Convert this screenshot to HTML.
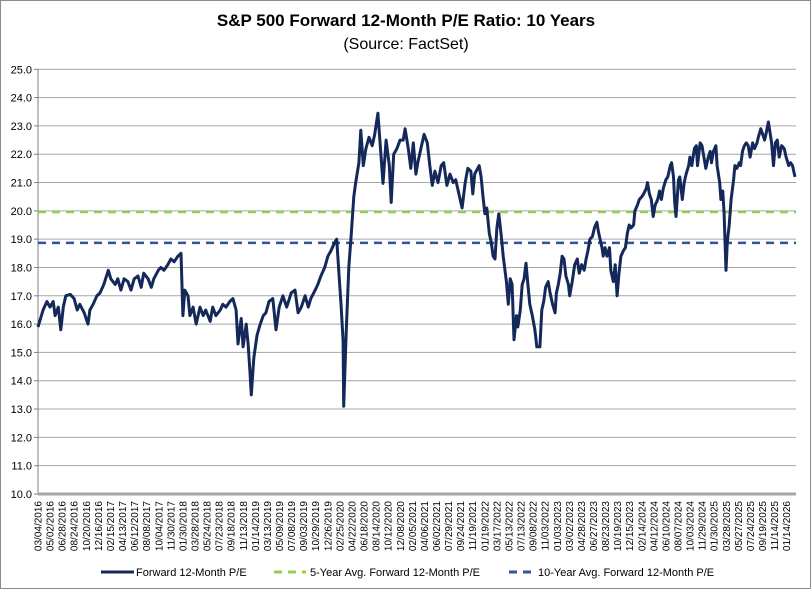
<!DOCTYPE html>
<html><head><meta charset="utf-8"><style>
html,body{margin:0;padding:0;background:#fff;}
svg{display:block;font-family:"Liberation Sans",Arial,sans-serif;}
</style></head><body>
<svg id="chart" width="812" height="590" viewBox="0 0 812 590">
<rect x="0.5" y="0.5" width="810" height="588" fill="#fff" stroke="#8c8c8c"/>
<text x="406" y="26" text-anchor="middle" font-size="17" font-weight="bold" fill="#000">S&amp;P 500 Forward 12-Month P/E Ratio: 10 Years</text>
<text x="406" y="49" text-anchor="middle" font-size="16" fill="#000">(Source: FactSet)</text>
<g id="grid"></g>
<g id="yaxis"></g>
<g id="xaxis"></g>
<g id="series"></g>
<g>
  <g>
    <line x1="101" y1="572" x2="134" y2="572" stroke="#14285a" stroke-width="3"/>
    <text x="136" y="576" font-size="11" fill="#000">Forward 12-Month P/E</text>
  </g>
  <g>
    <line x1="274" y1="572" x2="306" y2="572" stroke="#92d050" stroke-width="3" stroke-dasharray="8,6"/>
    <text x="310" y="576" font-size="11" fill="#000">5-Year Avg. Forward 12-Month P/E</text>
  </g>
  <g>
    <line x1="509" y1="572" x2="535" y2="572" stroke="#2f5597" stroke-width="3" stroke-dasharray="8,6"/>
    <text x="538" y="576" font-size="11" fill="#000">10-Year Avg. Forward 12-Month P/E</text>
  </g>
</g>
</svg>
<script>
const yTicks = [10,11,12,13,14,15,16,17,18,19,20,21,22,23,24,25];
const xLabels = ["03/04/2016","05/02/2016","06/28/2016","08/24/2016","10/20/2016","12/16/2016","02/15/2017","04/13/2017","06/12/2017","08/08/2017","10/04/2017","11/30/2017","01/30/2018","03/28/2018","05/24/2018","07/23/2018","09/18/2018","11/13/2018","01/14/2019","03/13/2019","05/09/2019","07/08/2019","09/03/2019","10/29/2019","12/26/2019","02/25/2020","04/22/2020","06/18/2020","08/14/2020","10/12/2020","12/08/2020","02/05/2021","04/06/2021","06/02/2021","07/29/2021","09/24/2021","11/19/2021","01/19/2022","03/17/2022","05/13/2022","07/13/2022","09/08/2022","11/03/2022","01/03/2023","03/02/2023","04/28/2023","06/27/2023","08/23/2023","10/19/2023","12/15/2023","02/14/2024","04/12/2024","06/10/2024","08/07/2024","10/03/2024","11/29/2024","01/30/2025","03/28/2025","05/27/2025","07/24/2025","09/19/2025","11/14/2025","01/14/2026"];
const avg5Year = 19.96;
const avg10Year = 18.87;
// months since March 2016
const months = [
0,0.8,1.4,1.9,2.4,2.7,3.2,3.6,4.0,4.4,
5.1,5.7,6.2,6.6,7.3,7.9,8.2,8.7,9.3,9.8,
10.4,11.1,11.5,12.2,12.6,13.1,13.6,14.2,14.7,15.2,
15.8,16.3,16.7,17.4,17.9,18.3,19.0,19.4,19.9,20.5,
21.0,21.5,22.1,22.6,22.9,23.2,23.7,24.0,24.5,25.0,
25.6,26.1,26.5,27.2,27.6,28.1,28.8,29.2,29.7,30.3,
30.8,31.3,31.6,32.1,32.4,32.9,33.2,33.5,33.7,34.1,
34.6,35.1,35.6,36.0,36.5,37.1,37.6,38.1,38.7,
39.3,40.0,40.6,41.1,41.6,42.2,42.7,43.1,43.8,44.2,
44.7,45.3,45.8,46.3,46.8,47.2,47.6,47.9,48.2,48.3,
48.7,49.1,49.5,49.9,50.2,50.7,51.0,51.4,51.8,52.3,
52.8,53.2,53.7,54.2,54.5,55.0,55.5,55.8,56.2,56.7,
57.2,57.7,58.0,58.5,58.9,59.3,59.7,60.0,60.5,61.0,
61.5,61.9,62.3,62.7,63.2,63.7,64.1,64.6,65.1,65.6,
66.0,66.5,67.0,67.5,67.9,68.4,68.7,69.0,69.7,70.0,
70.3,70.6,70.9,71.3,71.6,71.9,72.2,72.5,72.8,73.2,
73.5,74.0,74.3,74.6,74.9,75.2,75.6,75.8,76.2,76.5,
76.8,77.1,77.4,77.7,78.1,78.5,78.8,
79.3,79.6,79.9,80.2,80.6,80.9,81.3,81.7,81.9,82.2,
82.5,82.8,83.1,83.4,83.8,84.0,84.4,84.8,85.2,85.5,
85.9,86.3,86.6,86.9,87.2,87.6,87.9,88.3,88.5,88.8,
89.1,89.3,89.6,89.9,90.3,90.5,90.9,91.2,91.5,91.8,
92.1,92.5,92.8,93.1,93.4,93.7,94.1,94.3,94.7,95.0,
95.4,95.7,96.1,96.3,96.6,96.9,97.2,97.5,97.9,98.2,
98.5,98.8,99.2,99.5,99.9,100.1,100.4,100.6,100.8,101.2,
101.4,101.8,102.1,102.4,102.8,103.0,103.3,103.7,104.0,104.2,
104.6,104.9,105.2,105.5,105.9,106.2,106.4,106.7,107.1,107.3,
107.7,107.9,108.2,108.4,108.7,108.9,109.2,109.5,109.9,110.1,
110.4,110.8,111.0,111.3,111.6,111.9,112.2,112.5,112.9,113.2,
113.6,113.8,114.2,114.5,114.8,115.0,115.4,115.7,115.9,116.2,
116.5,116.8,117.1,117.5,117.9,118.2,118.6,118.9,119.2,119.6
];
const peValues = [
15.9,16.5,16.8,16.6,16.8,16.3,16.6,15.8,16.6,17.0,
17.05,16.9,16.5,16.7,16.4,16.0,16.5,16.7,17.0,17.1,
17.4,17.9,17.6,17.4,17.6,17.2,17.6,17.5,17.2,17.6,
17.7,17.3,17.8,17.6,17.3,17.6,17.9,18.0,17.9,18.1,
18.3,18.2,18.4,18.5,16.3,17.2,17.0,16.3,16.6,16.0,
16.6,16.3,16.5,16.1,16.6,16.3,16.5,16.7,16.6,16.8,
16.9,16.5,15.3,16.2,15.2,16.0,15.3,14.3,13.5,14.8,
15.6,16.0,16.3,16.4,16.8,16.9,15.8,16.6,17.0,
16.6,17.1,17.2,16.4,16.6,17.0,16.6,16.9,17.2,17.4,
17.7,18.0,18.4,18.6,18.85,19.0,17.6,16.6,15.4,13.1,
15.7,18.0,19.2,20.5,21.0,21.7,22.85,21.6,22.2,22.6,
22.3,22.7,23.45,21.9,20.97,22.5,21.6,20.3,22.0,22.2,
22.5,22.5,22.9,22.2,21.5,22.4,21.3,21.7,22.2,22.7,
22.4,21.6,20.9,21.4,21.0,21.6,21.7,20.9,21.3,21.0,
21.1,20.6,20.1,21.0,21.5,21.4,20.6,21.3,21.6,21.2,
20.5,19.9,20.1,19.2,18.9,18.4,18.3,19.4,19.9,19.1,
18.4,17.5,16.7,17.6,17.4,15.45,16.3,15.9,16.5,17.4,
17.6,18.15,17.4,16.7,16.3,15.8,15.2,
15.2,16.5,16.8,17.3,17.5,17.1,16.7,16.4,17.1,17.4,
17.8,18.4,18.3,17.7,17.4,17.0,17.5,18.1,18.3,17.8,
18.1,17.9,18.3,18.6,19.0,19.1,19.4,19.6,19.3,19.0,
18.7,18.4,18.7,18.4,18.7,17.9,17.5,18.1,17.0,17.8,
18.4,18.6,18.7,19.2,19.5,19.4,19.5,20.0,20.2,20.4,
20.5,20.6,20.8,21.0,20.6,20.4,19.8,20.2,20.4,20.7,
20.4,20.8,21.1,21.2,21.6,21.7,21.2,20.3,19.8,21.1,
21.2,20.4,21.0,21.3,21.6,21.9,21.6,22.2,22.3,21.6,
22.4,22.3,21.9,21.5,21.9,22.1,21.7,22.1,22.3,21.6,
21.0,20.4,20.7,19.9,17.9,18.9,19.5,20.4,21.1,21.6,
21.5,21.7,21.6,22.1,22.3,22.4,22.3,21.9,22.4,22.2,
22.4,22.6,22.9,22.7,22.5,22.7,23.14,22.7,22.4,21.6,
22.4,22.5,21.9,22.3,22.2,21.9,21.6,21.7,21.6,21.2
];

const NS = "http://www.w3.org/2000/svg";
const plotL = 38, plotR = 796, plotT = 69.3, plotB = 494;
const yMin = 10, yMax = 25, tMin = 0, tMax = 119.6;
function yScale(v){ return plotB - (v - yMin) / (yMax - yMin) * (plotB - plotT); }
function xScale(t){ return plotL + (t - tMin) / (tMax - tMin) * (795 - plotL); }
function labelX(i){ return plotL + i * (786.7 - plotL) / (xLabels.length - 1); }
function mk(tag, attrs, parent){
  const e = document.createElementNS(NS, tag);
  for (const k in attrs) e.setAttribute(k, attrs[k]);
  parent.appendChild(e);
  return e;
}
const grid = document.getElementById('grid');
const yaxis = document.getElementById('yaxis');
const xaxis = document.getElementById('xaxis');
const series = document.getElementById('series');

yTicks.forEach(v => {
  const y = yScale(v);
  if (v > yMin) {
    const g = mk('line', {x1: plotL, y1: y, x2: plotR, y2: y, stroke: '#a6a6a6', 'stroke-width': 1}, grid);
    
    
  }
  const tk = mk('line', {x1: plotL - 4, y1: y, x2: plotL, y2: y, stroke: '#808080', 'stroke-width': 1}, yaxis);
  
  
  const t = mk('text', {x: plotL - 6, y: y + 4, 'text-anchor': 'end', 'font-size': 11, fill: '#000'}, yaxis);
  t.textContent = v.toFixed(1);
  
  
});
const ax = mk('line', {x1: plotL, y1: plotT, x2: plotL, y2: plotB, stroke: '#808080', 'stroke-width': 1}, yaxis);


const bx = mk('line', {x1: plotL, y1: plotB, x2: plotR, y2: plotB, stroke: '#a6a6a6', 'stroke-width': 3}, xaxis);



xLabels.forEach((lab, i) => {
  const x = labelX(i) + 3.5;
  const t = mk('text', {x: 0, y: 0, 'text-anchor': 'end', 'font-size': 10, fill: '#000',
    transform: 'translate(' + x + ',' + (plotB + 7) + ') rotate(-90)'}, xaxis);
  t.textContent = lab;
  
  
});

const l5 = mk('line', {x1: plotL, y1: yScale(avg5Year), x2: plotR, y2: yScale(avg5Year), stroke: '#92d050', 'stroke-width': 2.5, 'stroke-dasharray': '8,6'}, series);


const l10 = mk('line', {x1: plotL, y1: yScale(avg10Year), x2: plotR, y2: yScale(avg10Year), stroke: '#2f5597', 'stroke-width': 2.5, 'stroke-dasharray': '8,6'}, series);



const n = Math.min(months.length, peValues.length);
let d = '';
for (let i = 0; i < n; i++) {
  d += (i ? 'L' : 'M') + xScale(months[i]).toFixed(1) + ',' + yScale(peValues[i]).toFixed(1);
}
const pl = mk('path', {d: d, fill: 'none', stroke: '#14285a', 'stroke-width': 3, 'stroke-linejoin': 'round'}, series);


</script>
</body></html>
